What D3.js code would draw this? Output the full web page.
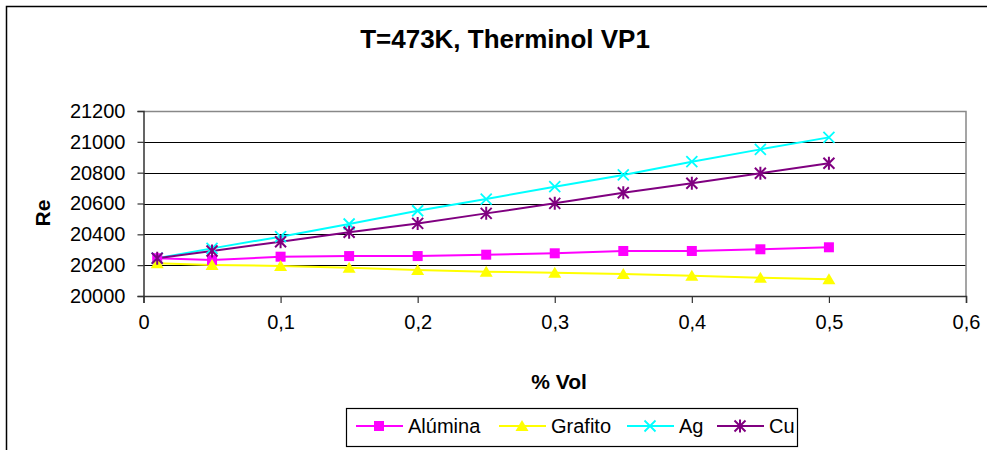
<!DOCTYPE html>
<html><head><meta charset="utf-8">
<script src="https://cdn.jsdelivr.net/npm/d3@7"></script>
<style>
html,body{margin:0;padding:0;background:#fff;}
svg{display:block;font-family:Arial,"Liberation Sans",sans-serif;}
</style></head>
<body>
<svg id="chart" width="987" height="450"></svg>
<script>
const title = "T=473K, Therminol VP1";
const xLabel = "% Vol";
const yLabel = "Re";
const xValues = [0.01, 0.05, 0.1, 0.15, 0.2, 0.25, 0.3, 0.35, 0.4, 0.45, 0.5];
const alumina = [20245, 20233, 20255, 20259, 20259, 20268, 20277, 20292, 20292, 20303, 20316];
const grafito = [20212, 20201, 20195, 20184, 20169, 20158, 20151, 20143, 20132, 20119, 20108];
const ag = [20245, 20309, 20385, 20467, 20553, 20629, 20709, 20785, 20871, 20951, 21029];
const cu = [20245, 20292, 20352, 20413, 20471, 20536, 20601, 20670, 20731, 20796, 20861];
const seriesNames = ["Alúmina", "Grafito", "Ag", "Cu"];
const seriesColors = ["#FF00FF", "#FFFF00", "#00FFFF", "#800080"];
const seriesMarkers = ["square", "triangle", "x", "star"];
const xTicks = [0, 0.1, 0.2, 0.3, 0.4, 0.5, 0.6];
const xTickLabels = ["0", "0,1", "0,2", "0,3", "0,4", "0,5", "0,6"];
const yTicks = [20000, 20200, 20400, 20600, 20800, 21000, 21200];

const series = [alumina, grafito, ag, cu].map((vals, i) => ({
  name: seriesNames[i], color: seriesColors[i], marker: seriesMarkers[i],
  points: vals.map((v, j) => ({x: xValues[j], y: v}))
}));

const svg = d3.select("#chart");
const L = 143.5, R = 966, T = 111, B = 296;
const x = d3.scaleLinear().domain([0, 0.6]).range([L, R]);
const y = d3.scaleLinear().domain([20000, 21200]).range([B, T]);

// outer chart border
svg.append("rect").attr("x", 6.5).attr("y", 6.5).attr("width", 1000).attr("height", 500)
  .attr("fill", "none").attr("stroke", "#000").attr("stroke-width", 1.5);

// title
svg.append("text").attr("x", 505).attr("y", 48).attr("text-anchor", "middle")
  .attr("font-size", 26).attr("font-weight", "bold").text(title);

// gridlines
svg.append("g").selectAll("line").data(yTicks.slice(1, -1)).join("line")
  .attr("x1", L).attr("x2", R)
  .attr("y1", d => Math.round(y(d)) + 0.5).attr("y2", d => Math.round(y(d)) + 0.5)
  .attr("stroke", "#000").attr("stroke-width", 1);

// plot frame (top and right gray)
svg.append("path")
  .attr("d", `M${L},${Math.round(T)+0.5}H${R}V${B}`)
  .attr("fill", "none").attr("stroke", "#888").attr("stroke-width", 1.5);

// y axis
const yAxis = d3.axisLeft(y).tickValues(yTicks).tickSize(6).tickPadding(12)
  .tickFormat(d => String(d));
const gy = svg.append("g").attr("transform", `translate(${L},0)`).call(yAxis);
gy.select(".domain").attr("stroke", "#333").attr("stroke-width", 1.5);
gy.selectAll(".tick line").attr("stroke", "#333").attr("stroke-width", 1.2);
gy.selectAll(".tick text").attr("font-size", 20).attr("fill", "#000")
  .attr("font-family", "Arial, 'Liberation Sans', sans-serif");

// x axis
const xAxis = d3.axisBottom(x).tickValues(xTicks).tickSize(7).tickPadding(12)
  .tickFormat((d, i) => xTickLabels[i]);
const gx = svg.append("g").attr("transform", `translate(0,${B})`).call(xAxis);
gx.select(".domain").attr("stroke", "#333").attr("stroke-width", 1.5);
gx.selectAll(".tick line").attr("stroke", "#333").attr("stroke-width", 1.2);
gx.selectAll(".tick text").attr("font-size", 20).attr("fill", "#000")
  .attr("font-family", "Arial, 'Liberation Sans', sans-serif");

// axis titles
svg.append("text").attr("x", 559).attr("y", 389).attr("text-anchor", "middle")
  .attr("font-size", 21).attr("font-weight", "bold").text(xLabel);
svg.append("text").attr("transform", "translate(50,213) rotate(-90)")
  .attr("text-anchor", "middle").attr("font-size", 21).attr("font-weight", "bold").text(yLabel);

// marker drawing
function drawMarker(g, type, color) {
  if (type === "square") {
    g.append("rect").attr("x", -5).attr("y", -5).attr("width", 10).attr("height", 10).attr("fill", color);
  } else if (type === "triangle") {
    g.append("path").attr("d", "M0,-6L6.5,5L-6.5,5Z").attr("fill", color);
  } else if (type === "x") {
    g.append("path").attr("d", "M-5.5,-5.5L5.5,5.5M-5.5,5.5L5.5,-5.5")
      .attr("stroke", color).attr("stroke-width", 1.8).attr("fill", "none");
  } else if (type === "star") {
    g.append("path").attr("d", "M-5.5,-5.5L5.5,5.5M-5.5,5.5L5.5,-5.5M0,-6.5L0,6.5")
      .attr("stroke", color).attr("stroke-width", 2).attr("fill", "none");
  }
}

const line = d3.line().x(d => x(d.x)).y(d => y(d.y));
const gSeries = svg.append("g");
series.forEach(s => {
  gSeries.append("path").datum(s.points).attr("d", line)
    .attr("fill", "none").attr("stroke", s.color).attr("stroke-width", 2);
});
series.forEach(s => {
  s.points.forEach(p => {
    const g = gSeries.append("g").attr("transform", `translate(${x(p.x)},${y(p.y)})`);
    drawMarker(g, s.marker, s.color);
  });
});

// legend
const lg = svg.append("g");
lg.append("rect").attr("x", 346.5).attr("y", 408.5).attr("width", 451).attr("height", 38)
  .attr("fill", "#fff").attr("stroke", "#000").attr("stroke-width", 1.2);
const legendX = [356, 499, 627, 717];
series.forEach((s, i) => {
  const lx = legendX[i], ly = 426;
  lg.append("line").attr("x1", lx).attr("x2", lx + 47).attr("y1", ly).attr("y2", ly)
    .attr("stroke", s.color).attr("stroke-width", 2);
  const g = lg.append("g").attr("transform", `translate(${lx + 23},${ly})`);
  drawMarker(g, s.marker, s.color);
  lg.append("text").attr("x", lx + 52).attr("y", ly + 7).attr("font-size", 20).text(s.name);
});
</script>
</body></html>
